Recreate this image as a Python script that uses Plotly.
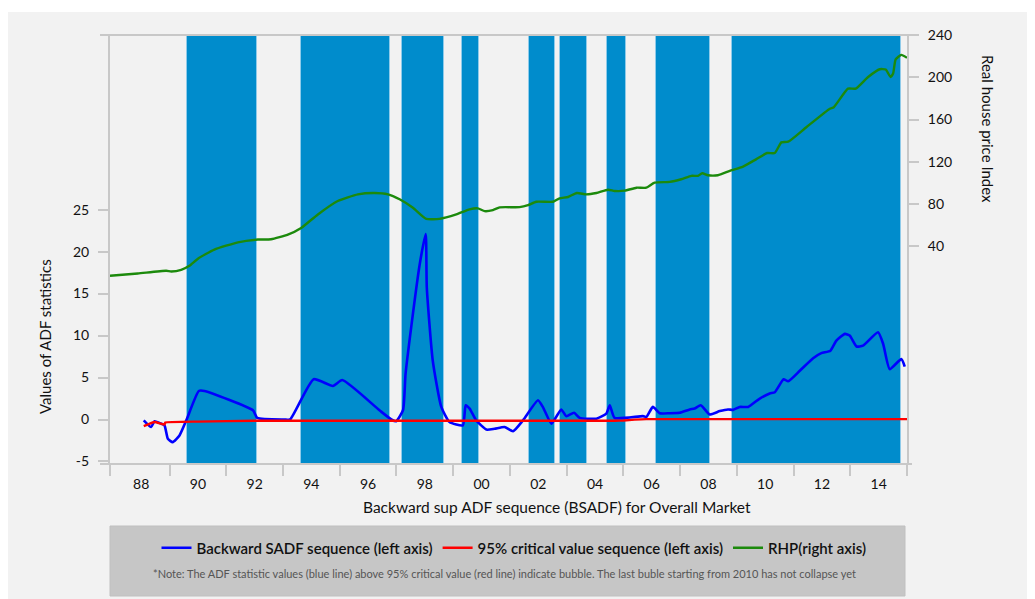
import plotly.graph_objects as go

# ---------------- data ----------------
# Backward SADF sequence (left axis)
bsadf_year = [1988.09, 1988.35, 1988.47, 1988.64, 1988.82, 1988.94, 1989.11, 1989.35, 1989.59,
              1990.03, 1990.23, 1991.94, 1992.09, 1993.05, 1993.25, 1994.08, 1994.76, 1995.09,
              1996.40, 1996.82, 1996.99, 1997.23, 1997.32, 1997.52, 1997.82, 1998.03, 1998.07,
              1998.28, 1998.58, 1998.87, 1999.34, 1999.44, 1999.58, 1999.81, 2000.17, 2000.46,
              2000.81, 2001.11, 2001.46, 2001.99, 2002.16, 2002.46, 2002.63, 2002.81, 2002.99,
              2003.26, 2003.46, 2004.05, 2004.40, 2004.52, 2004.69, 2005.69, 2005.81, 2006.04,
              2006.28, 2006.63, 2006.98, 2007.34, 2007.51, 2007.73, 2008.04, 2008.40, 2008.69,
              2008.87, 2009.10, 2009.40, 2009.81, 2010.16, 2010.34, 2010.65, 2010.81, 2011.22,
              2011.69, 2011.98, 2012.30, 2012.51, 2012.81, 2012.98, 2013.22, 2013.45, 2013.98,
              2014.16, 2014.39, 2014.80, 2014.92]
bsadf_val = [-0.1, -0.9, -0.2, -0.4, -0.7, -2.3, -2.7, -1.9, -0.1,
             3.4, 3.4, 1.1, 0.2, 0.0, 0.0, 4.8, 4.0, 4.7,
             1.1, 0.0, -0.2, 1.1, 5.4, 11.0, 18.5, 22.1, 15.7,
             7.0, 1.5, -0.3, -0.7, 1.7, 1.3, -0.1, -1.2, -1.1,
             -0.9, -1.4, -0.1, 2.3, 1.5, -0.5, 0.3, 1.2, 0.4,
             0.8, 0.2, 0.1, 0.7, 1.7, 0.2, 0.4, 0.3, 1.5,
             0.75, 0.75, 0.8, 1.2, 1.3, 1.7, 0.6, 1.0, 1.2,
             1.15, 1.5, 1.5, 2.5, 3.1, 3.25, 4.8, 4.55, 5.8,
             7.3, 7.9, 8.2, 9.4, 10.2, 10.0, 8.7, 8.8, 10.4,
             9.0, 6.0, 7.2, 6.3]

# 95% critical value sequence (left axis)
cv_year = [1988.09, 1988.47, 1988.82, 1988.85, 1990.0, 1992.0, 2004.7, 2005.0, 2005.4, 2005.8, 2015.0]
cv_val = [-0.8, -0.3, -0.6, -0.35, -0.25, -0.15, -0.15, -0.12, -0.02, 0.05, 0.05]

# Real house price index (right axis)
rhp_year = [1986.90, 1987.88, 1988.88, 1989.06, 1989.41, 1989.70, 1990.00, 1990.58, 1991.41,
            1992.11, 1992.58, 1993.17, 1993.64, 1994.23, 1994.93, 1995.64, 1996.23, 1996.70,
            1997.11, 1997.58, 1998.05, 1998.52, 1999.11, 1999.58, 1999.87, 2000.11, 2000.40,
            2000.64, 2001.34, 2001.64, 2001.93, 2002.52, 2002.75, 2003.05, 2003.36, 2003.69,
            2004.05, 2004.46, 2004.69, 2005.05, 2005.46, 2005.81, 2006.10, 2006.63, 2007.04,
            2007.40, 2007.63, 2007.78, 2007.98, 2008.33, 2008.75, 2009.22, 2009.69, 2010.07,
            2010.34, 2010.57, 2010.81, 2011.45, 2012.28, 2012.42, 2012.92, 2013.19, 2013.63,
            2014.04, 2014.25, 2014.42, 2014.51, 2014.60, 2014.80, 2015.00]
rhp_val = [12.1, 14.3, 16.9, 16.2, 17.8, 21.6, 28.3, 36.9, 43.8,
           46.4, 46.7, 51.1, 57.4, 70.2, 82.9, 89.2, 90.5, 89.2,
           84.5, 76.5, 66.0, 66.0, 70.2, 75.0, 75.9, 73.3, 74.3,
           76.9, 77.1, 79.0, 82.2, 82.2, 85.4, 86.7, 90.5, 89.2,
           90.5, 93.6, 92.4, 92.7, 95.5, 95.5, 100.3, 101.0, 103.5,
           106.7, 106.7, 109.2, 107.3, 107.3, 111.4, 115.5, 122.5, 128.3,
           128.3, 138.4, 139.0, 152.7, 170.2, 171.7, 189.2, 189.2, 200.3,
           207.6, 207.3, 200.3, 203.5, 216.9, 221.2, 218.4]

# bubble periods (shaded)
bubble_start = [1989.60, 1993.62, 1997.18, 1999.30, 2001.66, 2002.75, 2004.41, 2006.14, 2008.82]
bubble_end = [1992.10, 1996.76, 1998.66, 1999.90, 2002.58, 2003.71, 2005.08, 2008.04, 2014.78]

# ticks
x_label_vals = [1988, 1990, 1992, 1994, 1996, 1998, 2000, 2002, 2004, 2006, 2008, 2010, 2012, 2014]
x_label_text = ["88", "90", "92", "94", "96", "98", "00", "02", "04", "06", "08", "10", "12", "14"]
x_mark_vals = [1986.9, 1989, 1991, 1993, 1995, 1997, 1999, 2001, 2003, 2005, 2007, 2009, 2011, 2013, 2015]
left_ticks = [-5, 0, 5, 10, 15, 20, 25]
left_tick_text = ["-5", "0", "5", "10", "15", "20", "25"]
right_ticks = [40, 80, 120, 160, 200, 240]

# ---------------- figure ----------------
X_RANGE = [1986.9, 2015.0]
Y1_RANGE = [-5.3, 45.8]
Y2_RANGE = [-166.0, 240.0]

FONT = "Lato, 'Open Sans', sans-serif"
AX = "#c8c8c8"
BAR = "#008ccc"
PANEL = "#f2f2f2"

fig = go.Figure()

mid = [(s + e) / 2 for s, e in zip(bubble_start, bubble_end)]
wid = [e - s for s, e in zip(bubble_start, bubble_end)]
fig.add_trace(go.Bar(
    x=mid, width=wid,
    y=[Y1_RANGE[1] - Y1_RANGE[0]] * len(mid), base=[Y1_RANGE[0]] * len(mid),
    marker=dict(color=BAR, line=dict(color="#8fcbea", width=1)),
    showlegend=False, hoverinfo="skip", yaxis="y",
))

fig.add_trace(go.Scatter(
    x=bsadf_year, y=bsadf_val, mode="lines", name="Backward SADF sequence (left axis)",
    line=dict(color="#0000ff", width=2.6, shape="spline", smoothing=0.5), yaxis="y",
))
fig.add_trace(go.Scatter(
    x=cv_year, y=cv_val, mode="lines", name="95% critical value sequence (left axis)",
    line=dict(color="#ff0000", width=2.4, shape="spline", smoothing=0.3), yaxis="y",
))
fig.add_trace(go.Scatter(
    x=rhp_year, y=rhp_val, mode="lines", name="RHP(right axis)",
    line=dict(color="#1c8a0c", width=2.4, shape="spline", smoothing=0.5), yaxis="y2",
))

# page has an 8px body margin; helpers take screenshot pixel positions
OFF = 8
W, H = 1035, 599
L, T = 110 - OFF, 35 - OFF
R = W - (907 - OFF)
B = H - (464 - OFF)
pw, ph = W - L - R, H - T - B


def px(x):
    return (x - OFF - L) / pw


def py(y):
    return (H - B - (y - OFF)) / ph


shapes = [
    # outer grey panel
    dict(type="rect", xref="paper", yref="paper", x0=px(8), x1=px(1060), y0=py(620), y1=py(12),
         fillcolor=PANEL, line=dict(width=0), layer="below"),
    # legend box
    dict(type="rect", xref="paper", yref="paper", x0=px(110), x1=px(905), y0=py(596), y1=py(526),
         fillcolor="#c6c6c6", line=dict(color="#c0c0c0", width=1), layer="below"),
    # top & bottom frame lines (extend beyond the plot a little)
    dict(type="line", xref="paper", yref="paper", x0=px(100), x1=px(912), y0=1, y1=1,
         line=dict(color=AX, width=2)),
    dict(type="line", xref="paper", yref="paper", x0=px(100), x1=px(912), y0=0, y1=0,
         line=dict(color=AX, width=2)),
]

annotations = [
    dict(text="Values of ADF statistics", xref="paper", yref="paper", x=px(45), y=py(337),
         xanchor="center", yanchor="middle",
         textangle=-90, showarrow=False, font=dict(size=15, color="#111", family=FONT)),
    dict(text="Real house price Index", xref="paper", yref="paper", x=px(988), y=py(129),
         xanchor="center", yanchor="middle",
         textangle=90, showarrow=False, font=dict(size=15, color="#111", family=FONT)),
    dict(text="Backward sup ADF sequence (BSADF) for Overall Market", xref="paper", yref="paper",
         x=px(557), y=py(507), xanchor="center", yanchor="middle",
         showarrow=False, font=dict(size=15.5, color="#111", family=FONT)),
    dict(text="*Note: The ADF statistic values (blue line) above 95% critical value (red line) indicate bubble. "
              "The last buble starting from 2010 has not collapse yet",
         xref="paper", yref="paper", x=px(504), y=py(573), xanchor="center", yanchor="middle",
         showarrow=False, font=dict(size=11, color="#555", family=FONT)),
]

fig.update_layout(
    width=W, height=H,
    margin=dict(l=L, r=R, t=T, b=B, autoexpand=False),
    paper_bgcolor="white", plot_bgcolor=PANEL,
    font=dict(family=FONT, size=14, color="#111"),
    bargap=0,
    xaxis=dict(
        range=X_RANGE, showgrid=False, zeroline=False, showline=False,
        tickmode="array", tickvals=x_label_vals, ticktext=x_label_text, ticks="",
        tickfont=dict(size=14, color="#111"),
        minor=dict(tickmode="array", tickvals=x_mark_vals, ticks="outside", ticklen=11,
                   tickwidth=2, tickcolor=AX, showgrid=False),
        ticklabelstandoff=10,
    ),
    yaxis=dict(
        range=Y1_RANGE, showgrid=False, zeroline=False, showline=True, linecolor=AX, linewidth=2,
        tickmode="array", tickvals=left_ticks, ticktext=left_tick_text, ticks="outside",
        ticklen=10, tickwidth=2,
        tickcolor=AX, tickfont=dict(size=14, color="#111"), ticklabelstandoff=6,
    ),
    yaxis2=dict(
        range=Y2_RANGE, overlaying="y", side="right", showgrid=False, zeroline=False,
        showline=True, linecolor=AX, linewidth=2,
        tickmode="array", tickvals=right_ticks, ticks="outside", ticklen=10, tickwidth=2,
        tickcolor=AX, tickfont=dict(size=14, color="#111"), ticklabelstandoff=6,
    ),
    legend=dict(
        orientation="h", x=px(514), xanchor="center", y=py(548), yanchor="middle",
        bgcolor="rgba(0,0,0,0)", font=dict(size=15, color="#111", family=FONT, weight=600),
        itemwidth=30, tracegroupgap=0,
    ),
    shapes=shapes, annotations=annotations,
)

fig.write_html("out.html")
